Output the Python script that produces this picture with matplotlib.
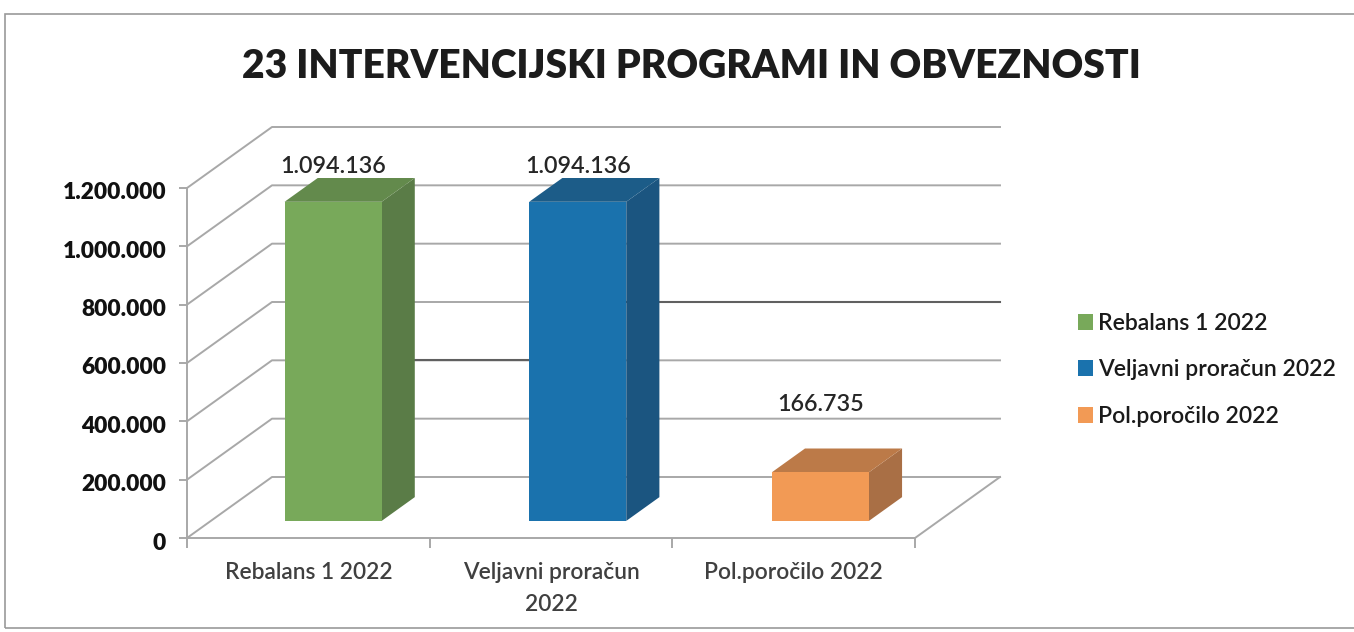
import matplotlib.pyplot as plt
from matplotlib.patches import Patch, Rectangle
from matplotlib.ticker import FuncFormatter
from matplotlib.transforms import ScaledTranslation
import numpy as np

plt.rcParams['font.family'] = ['Lato', 'DejaVu Sans']

categories = ['Rebalans 1 2022', 'Veljavni proračun\n2022', 'Pol.poročilo 2022']
legend_labels = ['Rebalans 1 2022', 'Veljavni proračun 2022', 'Pol.poročilo 2022']
values = [1094136, 1094136, 166735]
value_labels = ['1.094.136', '1.094.136', '166.735']
yticks = [0, 200000, 400000, 600000, 800000, 1000000, 1200000]

front_colors = ['#78a95a', '#1a72ad', '#f29a55']
top_colors = ['#638a4c', '#1c5c88', '#bc7a48']
side_colors = ['#5a7c47', '#1b5580', '#a96f45']
grid_color = '#a8a8a8'

# fake 3d: one unit of depth moves things this much, in data units
xmin, xmax = -0.5, 2.5
ymax = 1200000
ax_w, ax_h = 728, 350
depth_x = 85 / ax_w * (xmax - xmin)
depth_y = 61 / ax_h * ymax
bar_width = 0.40
d_front = 0.28
d_back = 0.67
bar_nudge = [0.004, 0.012, 0.012]


def proj(x, y, d):
    return x + d * depth_x, y + d * depth_y


fig = plt.figure(figsize=(13.54, 6.32), dpi=100)
ax = fig.add_axes([187 / 1354, (632 - 538) / 632, ax_w / 1354, ax_h / 632])
ax.set_xlim(xmin, xmax)
ax.set_ylim(0, ymax)
ax.patch.set_visible(False)

# scanned page frame
fig.add_artist(Rectangle((5 / 1354, 4 / 632), 1400 / 1354, 614 / 632,
                         transform=fig.transFigure, fill=False,
                         edgecolor='#9a9a9a', linewidth=1.2))

# walls and floor
for v in yticks:
    p0 = proj(xmin, v, 0)
    p1 = proj(xmin, v, 1)
    p2 = proj(xmax, v, 1)
    ax.plot([p0[0], p1[0], p2[0]], [p0[1], p1[1], p2[1]], color=grid_color,
            lw=1.4, clip_on=False, zorder=1)
p0 = proj(xmax, 0, 1)
p1 = proj(xmax, 0, 0)
ax.plot([p0[0], p1[0]], [p0[1], p1[1]], color=grid_color, lw=1.4, clip_on=False, zorder=1)

# darker bits of two gridlines in the scan
ax.plot([proj(0.09, 400000, 1)[0], proj(0.555, 400000, 1)[0]],
        [proj(0.09, 400000, 1)[1]] * 2, color='#606060', lw=1.5, clip_on=False, zorder=1.5)
ax.plot([proj(0.75, 600000, 1)[0], proj(xmax, 600000, 1)[0]],
        [proj(0.75, 600000, 1)[1]] * 2, color='#606060', lw=1.5, clip_on=False, zorder=1.5)

# bars
for i, v in enumerate(values):
    l = i + bar_nudge[i] - bar_width / 2
    r = i + bar_nudge[i] + bar_width / 2
    fl = proj(l, 0, d_front)
    fr = proj(r, 0, d_front)
    tl = proj(l, v, d_front)
    tr = proj(r, v, d_front)
    btl = proj(l, v, d_back)
    btr = proj(r, v, d_back)
    bbr = proj(r, 0, d_back)
    ax.fill([fr[0], tr[0], btr[0], bbr[0]], [fr[1], tr[1], btr[1], bbr[1]],
            color=side_colors[i], lw=0, clip_on=False, zorder=3)
    ax.fill([tl[0], tr[0], btr[0], btl[0]], [tl[1], tr[1], btr[1], btl[1]],
            color=top_colors[i], lw=0, clip_on=False, zorder=3)
    ax.fill([fl[0], fr[0], tr[0], tl[0]], [fl[1], fr[1], tr[1], tl[1]],
            color=front_colors[i], lw=0, clip_on=False, zorder=4)

label_offsets = [35, 35, 68]
for i, v in enumerate(values):
    ax.annotate(value_labels[i], proj(i + bar_nudge[i], v, d_front),
                xytext=(0, label_offsets[i] * 0.72),
                textcoords='offset points', ha='center', va='center',
                fontsize=16.8, color='#262626', fontweight='semibold', zorder=5)

# axes
for s in ['top', 'right']:
    ax.spines[s].set_visible(False)
for s in ['left', 'bottom']:
    ax.spines[s].set_color(grid_color)
    ax.spines[s].set_linewidth(1.4)
ax.set_yticks(yticks)
ax.yaxis.set_major_formatter(FuncFormatter(lambda v, p: f'{int(v):,}'.replace(',', '.')))
ax.tick_params(axis='y', length=6, width=1.4, color=grid_color, pad=9,
               labelsize=16.4, labelcolor='#111111')
shift = ScaledTranslation(0, -3 / 100, fig.dpi_scale_trans)
for t in ax.get_yticklabels():
    t.set_fontweight('heavy')
    t.set_transform(t.get_transform() + shift)
ax.set_xticks([-0.5, 0.5, 1.5, 2.5])
ax.set_xticklabels([])
ax.tick_params(axis='x', which='major', length=7, width=1.4, color=grid_color)
ax.set_xticks([0, 1, 2], minor=True)
ax.set_xticklabels(categories, minor=True, fontsize=16.4, color='#404040', fontweight='semibold',
                   linespacing=1.65)
ax.tick_params(axis='x', which='minor', length=0, pad=17)

fig.text(691 / 1354, 1 - 67 / 632, '23 INTERVENCIJSKI PROGRAMI IN OBVEZNOSTI', ha='center',
         va='center', fontsize=28.1, fontweight='heavy', color='#1c1c1c')

handles = [Patch(facecolor=c, edgecolor='none') for c in front_colors]
fig.legend(handles, legend_labels, loc='center left',
           bbox_to_anchor=(1057 / 1354, 1 - 370 / 632), frameon=False,
           prop={'size': 16.6, 'weight': 'semibold'},
           handlelength=0.68, handleheight=0.68, handletextpad=0.22, labelspacing=1.1,
           labelcolor='#1a1a1a')

fig.savefig('out.png', dpi=100)
